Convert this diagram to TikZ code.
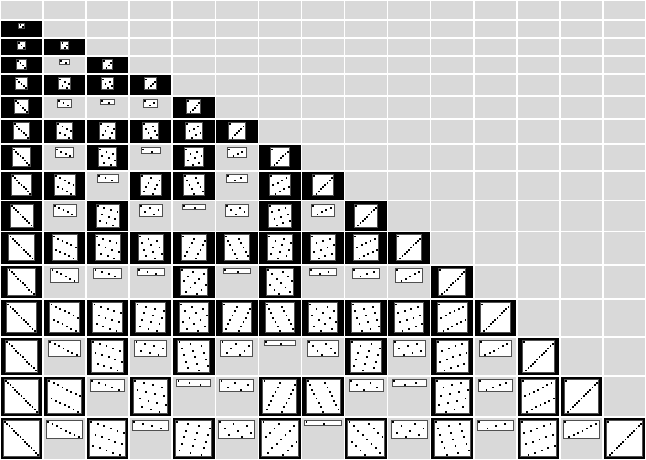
\documentclass[tikz,border=0pt]{standalone}
\definecolor{cellgray}{HTML}{D9D9D9}
\definecolor{boxborder}{HTML}{505050}
\tikzset{
  emptycell/.style={fill=cellgray},
  primecell/.style={fill=black},
  plotbox/.style={fill=white, draw=boxborder, line width=1pt},
  plotdot/.style={fill=black}
}
\begin{document}
\begin{tikzpicture}[x=1pt,y=-1pt]
\fill[white] (0,0) rectangle (646,460);
\useasboundingbox (0,0) rectangle (646,460);
\def\lines{{0,19.8,38.2,55.9,74.3,95.9,119.2,144.2,170.9,200.5,231.3,264.7,299.2,336.7,375.7,416.7,459.6}}
% header row
\foreach \c in {1,...,15} {
  \pgfmathsetmacro\xa{43.067*(\c-1)+0.8}
  \pgfmathsetmacro\xb{43.067*\c-0.8}
  \fill[emptycell] (\xa,0.9) rectangle (\xb,19.0);
}
\foreach \r in {1,...,15} {
  \pgfmathsetmacro\ya{\lines[\r]+0.8}
  \pgfmathsetmacro\yb{\lines[\r+1]-0.8}
  \pgfmathtruncatemacro\nn{\r+1}
  \foreach \c in {1,...,15} {
    \pgfmathsetmacro\xa{43.067*(\c-1)+0.8}
    \pgfmathsetmacro\xb{43.067*\c-0.8}
    \ifnum\c>\r\relax
      \fill[emptycell] (\xa,\ya) rectangle (\xb,\yb);
    \else
      \pgfmathtruncatemacro\dd{gcd(\c,\nn)}
      \pgfmathtruncatemacro\kk{\nn/\dd}
      \pgfmathsetmacro\ww{2.2*\nn+2}
      \pgfmathsetmacro\hh{2.2*\kk+2}
      \pgfmathsetmacro\bx{(\xa+\xb)/2-\ww/2}
      \pgfmathsetmacro\by{\ya+2.3}
      \ifnum\dd=1\relax
        \fill[primecell] (\xa,\ya) rectangle (\xb,\yb);
      \else
        \fill[emptycell] (\xa,\ya) rectangle (\xb,\yb);
      \fi
      \filldraw[plotbox] (\bx+0.5,\by+0.5) rectangle (\bx+\ww-0.5,\by+\hh-0.5);
      \pgfmathtruncatemacro\km{\kk-1}
      \foreach \i in {0,...,\km} {
        \pgfmathtruncatemacro\px{mod(\c*\i,\nn)}
        \fill[plotdot] (\bx+1.2+2.2*\px,\by+1.2+2.2*\i) rectangle ++(1.8,1.8);
      }
    \fi
  }
}
\end{tikzpicture}
\end{document}
